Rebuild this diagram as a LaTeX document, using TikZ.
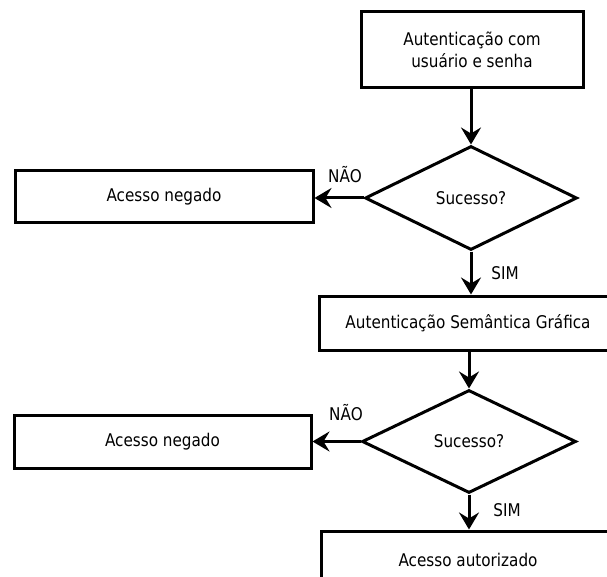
\documentclass[tikz,border=0pt]{standalone}
\usepackage{fontspec}
\setmainfont[FakeStretch=0.87]{DejaVu Sans}
\usetikzlibrary{arrows.meta,shapes.geometric}
\tikzset{
  every node/.style={font=\fontsize{17.5}{22}\selectfont},
  box/.style={draw, line width=3pt, rectangle, inner sep=0pt, align=center},
  decision/.style={draw, line width=3pt, diamond, inner sep=0pt},
  flow/.style={line width=3pt, -{Stealth[length=17pt,width=20pt,inset=6pt]}},
  tag/.style={inner sep=0pt}
}
\begin{document}
\begin{tikzpicture}[x=1pt,y=-1pt]
  \useasboundingbox (0,0) rectangle (607,577);
  \clip (0,0) rectangle (607,577);

  % process boxes
  \node[box, minimum width=222pt, minimum height=76pt] (login) at (472,50)
    {Autenticação com\\usuário e senha};
  \node[box, minimum width=298pt, minimum height=52pt] (deny1) at (164,197)
    {Acesso negado};
  \node[box, minimum width=298pt, minimum height=54pt] (sem) at (468,323)
    {Autenticação Semântica Gráfica};
  \node[box, minimum width=297pt, minimum height=53pt] (deny2) at (162.5,441.5)
    {Acesso negado};
  \node[box, minimum width=294pt, minimum height=58pt] (ok) at (468,560)
    {Acesso autorizado};

  % decisions
  \node[decision, minimum width=212pt, minimum height=104pt] (q1) at (471,198)
    {Sucesso?};
  \node[decision, minimum width=214pt, minimum height=103pt] (q2) at (469,441.5)
    {Sucesso?};

  % connectors
  \draw[flow] (login.south -| q1.north) -- (q1.north);
  \draw[flow] (q1.west) -- (q1.west -| deny1.east);
  \draw[flow] (q1.south) -- (q1.south |- sem.north);
  \draw[flow] (sem.south -| q2.north) -- (q2.north);
  \draw[flow] (q2.west) -- (q2.west -| deny2.east);
  \draw[flow] (q2.south) -- (q2.south |- ok.north);

  % branch labels
  \node[tag] (no1) at (345,175) {NÃO};
  \node[tag] (yes1) at (505,273) {SIM};
  \node[tag] (no2) at (346,413) {NÃO};
  \node[tag] (yes2) at (507,510) {SIM};
\end{tikzpicture}
\end{document}
